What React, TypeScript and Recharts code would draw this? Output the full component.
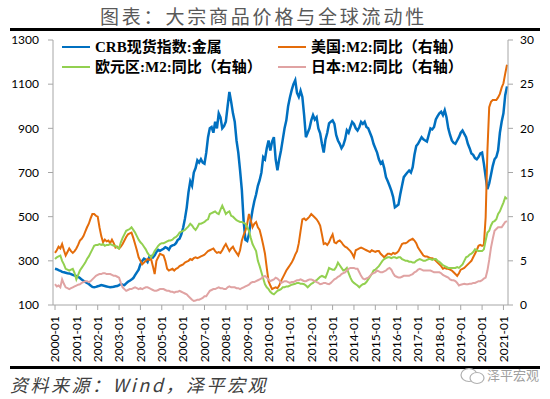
import React from "react";
import { LineChart, Line, XAxis, YAxis } from "recharts";

// monthly, 2000-01 .. 2021-03
const startYear = 2000;
const monthCount = 255;

const categories: string[] = [];
for (let i = 0; i < monthCount; i++) {
  const y = startYear + Math.floor(i / 12);
  const m = (i % 12) + 1;
  categories.push(`${y}-${m < 10 ? "0" + m : m}`);
}

// CRB现货指数:金属 (left axis)
const crbMetals = [
  264, 262, 258, 255, 250, 248, 246, 244, 243, 240, 236, 233,
  232, 228, 222, 215, 210, 205, 200, 195, 188, 182, 180, 182,
  185, 187, 190, 188, 186, 184, 182, 180, 181, 183, 185, 186,
  190, 195, 192, 190, 198, 205, 210, 215, 222, 235, 248, 260,
  285, 300, 310, 305, 295, 318, 322, 315, 325, 340, 350, 345,
  350, 355, 362, 358, 350, 365, 370, 372, 380, 395, 400, 420,
  450, 490, 540, 610, 660, 640, 700, 720, 755, 745, 760, 745,
  740, 790, 860, 900, 906, 880, 930, 900, 968, 950, 900, 910,
  930, 1000, 1065, 1020, 968, 930, 845, 790, 710, 620, 480, 395,
  390, 420, 480, 530, 570, 600, 640, 665, 700, 770, 760, 810,
  845, 800, 840, 860, 760, 710, 760, 800, 850, 900, 936, 1000,
  1040, 1073, 1100, 1118, 1060, 1042, 1070, 1042, 960, 860, 880, 900,
  936, 960, 940, 950, 900, 877, 830, 790, 850, 880, 922, 930,
  936, 920, 870, 845, 830, 810, 823, 850, 891, 880, 905, 929,
  920, 900, 890, 905, 929, 920, 930, 906, 900, 880, 860, 830,
  810, 790, 760, 741, 750, 720, 679, 660, 640, 618, 590, 542,
  548, 555, 600, 640, 679, 690, 700, 709, 700, 724, 780, 820,
  830, 845, 860, 850, 845, 840, 870, 900, 895, 906, 940, 955,
  968, 975, 960, 982, 950, 900, 870, 845, 835, 830, 845, 860,
  880, 890, 875, 860, 830, 810, 786, 780, 765, 760, 770, 786,
  790, 740, 680, 625, 650, 690, 730, 760, 770, 800, 880, 930,
  968, 1050, 1090,
];

// 美国:M2:同比 (right axis)
const usM2 = [
  5.9, 6.2, 6.6, 6.4, 6.9, 6.2, 5.6, 6.0, 6.4, 6.1, 5.9, 6.1,
  6.4, 6.8, 7.3, 7.5, 7.8, 8.3, 8.8, 9.2, 9.8, 10.3, 10.3, 10.1,
  10.0, 8.8, 7.8, 7.1, 7.4, 7.2, 7.3, 7.0, 7.4, 7.0, 6.5, 6.6,
  6.4, 6.6, 6.9, 7.3, 7.7, 8.0, 8.1, 8.2, 7.6, 6.9, 6.2, 5.4,
  5.0, 4.6, 4.8, 5.0, 5.2, 5.1, 5.2, 4.4, 3.5, 5.0, 5.4, 5.8,
  5.7, 5.6, 5.0, 4.1, 3.9, 4.0, 4.1, 3.9, 4.1, 4.2, 4.4, 4.5,
  4.6, 4.8, 4.9, 5.0, 5.2, 5.1, 5.3, 5.4, 5.3, 5.4, 5.5, 5.6,
  5.7, 5.9, 6.1, 6.2, 6.3, 6.4, 6.1, 5.9, 6.0, 5.9, 6.2, 6.6,
  6.9, 6.5, 6.1, 6.4, 6.6, 6.2, 5.9, 5.6, 6.2, 7.3, 7.9, 8.4,
  9.2, 10.3, 9.6, 8.8, 9.2, 9.4, 8.8, 8.5, 7.7, 6.8, 5.8, 4.2,
  2.7, 2.2, 1.8, 1.9, 2.0, 1.9, 2.2, 2.7, 3.1, 3.5, 3.9, 4.2,
  4.5, 4.8, 5.2, 5.7, 6.1, 7.0, 8.4, 9.7, 9.8, 9.6, 9.8, 10.0,
  10.3, 10.1, 9.9, 9.7, 9.4, 9.0, 8.0, 6.9, 7.0, 6.8, 7.1, 7.6,
  8.0, 7.1, 7.0, 7.2, 7.3, 7.1, 6.8, 6.6, 6.5, 6.3, 6.1, 5.8,
  5.4, 6.2, 6.3, 6.4, 6.5, 6.4, 6.3, 6.2, 6.1, 6.0, 6.2, 6.1,
  6.0, 6.1, 6.1, 5.8, 5.6, 5.4, 5.6, 5.8, 5.8, 5.7, 5.9, 5.8,
  5.9, 6.1, 6.5, 6.9, 7.0, 7.0, 7.1, 7.3, 7.4, 7.5, 7.3, 7.0,
  6.5, 6.2, 5.9, 5.6, 5.5, 5.5, 5.4, 5.3, 5.3, 5.2, 5.0, 4.8,
  4.6, 4.4, 4.1, 4.2, 4.1, 4.1, 4.0, 3.9, 3.7, 3.5, 3.3, 3.6,
  4.0, 4.1, 4.2, 4.4, 4.6, 4.8, 5.0, 5.4, 5.8, 6.2, 6.7, 6.8,
  6.7, 6.8, 9.9, 17.5, 22.4, 23.0, 23.2, 23.2, 23.2, 23.5, 23.9, 24.6,
  25.1, 26.2, 27.2,
];

// 欧元区:M2:同比 (right axis)
const euroM2 = [
  5.2, 5.4, 5.5, 5.6, 5.0, 4.6, 4.1, 4.0, 3.9, 4.0, 4.1, 3.6,
  2.9, 3.4, 3.9, 4.2, 4.5, 4.8, 5.2, 5.5, 5.9, 6.3, 6.7, 6.8,
  6.8, 6.9, 6.8, 6.9, 6.7, 6.8, 6.8, 6.9, 6.8, 6.7, 6.7, 6.5,
  6.4, 7.1, 7.6, 8.0, 8.4, 8.5, 8.6, 8.8, 8.5, 8.2, 7.8, 7.4,
  7.1, 6.9, 6.6, 6.3, 5.9, 5.6, 5.4, 5.7, 6.1, 6.4, 6.7, 6.9,
  7.0, 7.0, 7.1, 7.2, 7.3, 7.3, 7.4, 7.6, 7.7, 7.9, 8.2, 8.3,
  8.4, 8.5, 8.7, 8.9, 9.2, 9.0, 8.7, 8.5, 8.8, 9.2, 9.2, 9.3,
  9.4, 9.6, 9.7, 10.3, 10.4, 10.5, 10.6, 10.4, 10.3, 10.8, 11.25, 10.8,
  10.3, 10.5, 10.6, 10.1, 10.0, 9.8, 9.6, 9.5, 9.4, 9.4, 9.3, 9.2,
  8.8, 8.4, 7.6, 6.9, 6.5, 6.1, 5.0, 4.4, 3.7, 3.0, 2.35, 2.0,
  1.8, 1.5, 1.3, 1.2, 1.4, 1.6, 1.7, 1.8, 2.0, 2.0, 2.1, 2.1,
  2.2, 2.3, 2.35, 2.4, 2.5, 2.5, 2.4, 2.4, 2.35, 2.2, 2.0, 2.2,
  2.4, 2.5, 2.7, 2.8, 3.0, 3.2, 3.3, 3.2, 3.1, 3.6, 4.2, 4.1,
  4.0, 4.0, 4.3, 4.8, 4.5, 4.2, 3.9, 4.0, 4.2, 3.6, 3.1, 2.7,
  2.5, 2.35, 2.2, 2.0, 2.2, 2.35, 2.4, 2.6, 2.9, 3.2, 3.5, 3.9,
  4.0, 4.2, 4.4, 4.7, 5.0, 5.2, 5.3, 5.4, 5.4, 5.3, 5.4, 5.4,
  5.3, 5.4, 5.4, 5.2, 5.1, 5.0, 5.0, 4.9, 4.9, 4.8, 4.8, 5.0,
  5.1, 5.2, 5.1, 5.0, 5.0, 5.1, 5.2, 5.2, 5.1, 5.2, 5.2, 5.0,
  4.9, 4.7, 4.5, 4.4, 4.3, 4.2, 4.2, 4.2, 4.2, 4.2, 4.3, 4.2,
  4.4, 4.6, 5.0, 5.4, 5.5, 5.7, 5.8, 6.0, 6.3, 6.2, 6.1, 6.1,
  6.1, 6.3, 7.3, 8.2, 8.4, 9.0, 9.4, 9.5, 9.7, 10.3, 10.6, 11.1,
  11.6, 12.2, 12.0,
];

// 日本:M2:同比 (right axis)
const japanM2 = [
  2.35, 2.1, 2.2, 2.0, 2.9, 2.4, 2.0, 1.9, 1.8, 1.9, 2.0, 2.1,
  2.2, 2.3, 2.35, 2.5, 2.6, 2.7, 2.7, 2.6, 2.7, 2.9, 3.1, 3.3,
  3.4, 3.5, 3.5, 3.6, 3.6, 3.5, 3.5, 3.5, 3.4, 3.3, 3.3, 3.2,
  3.1, 2.5, 2.0, 1.8, 1.6, 1.7, 1.8, 1.8, 1.9, 2.0, 1.9, 1.8,
  1.9, 1.8, 1.9, 2.0, 2.0, 1.9, 1.8, 1.7, 1.6, 1.6, 1.7, 1.8,
  1.8, 1.8, 1.7, 1.6, 1.6, 1.5, 1.5, 1.4, 1.5, 1.5, 1.6, 1.5,
  1.4, 1.3, 1.2, 1.0, 0.8, 0.6, 0.45, 0.5, 0.6, 0.6, 0.7, 0.8,
  1.0, 1.0, 1.3, 1.6, 1.7, 1.8, 1.8, 1.9, 2.0, 1.9, 1.9, 1.8,
  1.8, 2.0, 2.1, 2.0, 2.0, 2.0, 1.9, 1.9, 1.8, 1.9, 2.0, 2.1,
  2.2, 2.3, 2.5, 2.6, 2.6, 2.7, 2.8, 2.9, 3.0, 3.2, 3.3, 3.1,
  2.9, 2.7, 2.8, 2.9, 3.1, 3.0, 2.8, 2.5, 2.6, 2.7, 2.7, 2.6,
  2.5, 2.6, 2.6, 2.7, 2.8, 2.8, 2.9, 2.8, 2.7, 2.7, 2.8, 2.9,
  2.9, 2.8, 2.7, 2.6, 2.5, 2.35, 2.4, 2.5, 2.5, 2.4, 2.35, 2.5,
  2.7, 2.9, 3.0, 3.2, 3.3, 3.5, 3.6, 3.7, 3.9, 4.1, 4.2, 4.2,
  4.2, 4.1, 4.1, 3.7, 3.3, 3.0, 2.9, 3.0, 3.1, 3.3, 3.5, 3.6,
  3.7, 3.9, 3.8, 3.7, 3.7, 3.8, 3.9, 4.1, 4.2, 4.0, 3.6, 3.3,
  3.2, 3.1, 3.1, 3.2, 3.3, 3.3, 3.3, 3.3, 3.4, 3.5, 3.7, 3.8,
  4.0, 4.1, 4.0, 3.9, 3.9, 3.9, 3.9, 3.9, 3.8, 3.7, 3.7, 3.7,
  3.7, 3.6, 3.4, 3.3, 3.2, 3.1, 2.9, 2.8, 2.8, 2.7, 2.5, 2.2,
  2.3, 2.35, 2.4, 2.35, 2.35, 2.4, 2.4, 2.5, 2.5, 2.6, 2.7, 2.7,
  2.8, 3.0, 3.1, 3.9, 5.1, 6.5, 7.5, 8.4, 8.6, 8.8, 8.8, 8.8,
  9.1, 9.4, 9.5,
];

const leftTicks = [100, 300, 500, 700, 900, 1100, 1300];
const rightTicks = [0, 5, 10, 15, 20, 25, 30];

const seriesNames = {
  crb: "CRB现货指数:金属",
  us: "美国:M2:同比（右轴）",
  euro: "欧元区:M2:同比（右轴）",
  japan: "日本:M2:同比（右轴）",
};

const data = categories.map((date, i) => ({
  date,
  crb: crbMetals[i],
  us: usM2[i],
  euro: euroM2[i],
  japan: japanM2[i],
}));

const BLUE = "#0070C0";
const ORANGE = "#E46C0A";
const GREEN = "#92D050";
const PINK = "#E0A3A3";
const AXIS = "#A6A6A6";
const tickFont = "Lato, 'Liberation Sans', sans-serif";

const XTick = (props: any) => {
  const { x, y, payload } = props;
  return (
    <text
      x={x}
      y={y}
      transform={`rotate(-90, ${x}, ${y})`}
      textAnchor="end"
      dy="0.36em"
      fontSize={12}
      fontFamily={tickFont}
      fill="#000"
    >
      {payload.value}
    </text>
  );
};

const legendFont = "'Liberation Serif', 'Noto Sans CJK SC', serif";

const LegendItem = ({ color, label, left, top }: any) => (
  <div
    style={{
      position: "absolute",
      left,
      top,
      display: "flex",
      alignItems: "center",
      whiteSpace: "nowrap",
    }}
  >
    <div style={{ width: 28, height: 2, background: color, marginRight: 5 }} />
    <span
      style={{
        fontFamily: legendFont,
        fontWeight: 700,
        fontSize: 15,
        color: "#000",
        lineHeight: "16px",
      }}
    >
      {label}
    </span>
  </div>
);

export default function App() {
  return (
    <div
      style={{
        position: "absolute",
        left: 0,
        top: 0,
        width: 550,
        height: 399,
        background: "#fff",
        overflow: "hidden",
      }}
    >
      <div
        style={{
          position: "absolute",
          left: 100,
          top: 4,
          fontFamily: "'Noto Sans CJK SC', sans-serif",
          fontSize: 19,
          letterSpacing: 2.8,
          color: "#595959",
          lineHeight: "24px",
          whiteSpace: "nowrap",
        }}
      >
        图表：大宗商品价格与全球流动性
      </div>
      <div
        style={{
          position: "absolute",
          left: 10,
          top: 28,
          width: 530,
          height: 3,
          background: "#000",
        }}
      />

      <div style={{ position: "absolute", left: 0, top: 0 }}>
        <LineChart
          width={550}
          height={370}
          data={data}
          margin={{ top: 40, right: 0, bottom: 0, left: 0 }}
        >
          <XAxis
            dataKey="date"
            interval={11}
            height={65}
            padding={{ left: 2, right: 1 }}
            tick={<XTick />}
            tickSize={5}
            tickMargin={6}
            stroke={AXIS}
            axisLine={{ stroke: AXIS }}
            tickLine={{ stroke: AXIS }}
          />
          <YAxis
            yAxisId="left"
            orientation="left"
            width={53}
            domain={[100, 1300]}
            ticks={leftTicks}
            allowDataOverflow
            tickSize={5}
            tickMargin={9}
            axisLine={{ stroke: AXIS }}
            tickLine={{ stroke: AXIS }}
            tick={{ fill: "#000", fontSize: 12, fontFamily: tickFont }}
          />
          <YAxis
            yAxisId="right"
            orientation="right"
            width={42}
            domain={[0, 30]}
            ticks={rightTicks}
            allowDataOverflow
            tickSize={5}
            tickMargin={7}
            axisLine={{ stroke: AXIS }}
            tickLine={{ stroke: AXIS }}
            tick={{ fill: "#000", fontSize: 12, fontFamily: tickFont }}
          />
          <Line
            yAxisId="left"
            dataKey="crb"
            name={seriesNames.crb}
            stroke={BLUE}
            strokeWidth={2.5}
            dot={false}
            isAnimationActive={false}
          />
          <Line
            yAxisId="right"
            dataKey="us"
            name={seriesNames.us}
            stroke={ORANGE}
            strokeWidth={2}
            dot={false}
            isAnimationActive={false}
          />
          <Line
            yAxisId="right"
            dataKey="euro"
            name={seriesNames.euro}
            stroke={GREEN}
            strokeWidth={2}
            dot={false}
            isAnimationActive={false}
          />
          <Line
            yAxisId="right"
            dataKey="japan"
            name={seriesNames.japan}
            stroke={PINK}
            strokeWidth={2}
            dot={false}
            isAnimationActive={false}
          />
        </LineChart>
      </div>

      <LegendItem color={BLUE} label={seriesNames.crb} left={62} top={39} />
      <LegendItem color={ORANGE} label={seriesNames.us} left={278} top={39} />
      <LegendItem color={GREEN} label={seriesNames.euro} left={62} top={59} />
      <LegendItem color={PINK} label={seriesNames.japan} left={278} top={59} />

      <div
        style={{
          position: "absolute",
          left: 10,
          top: 366,
          width: 530,
          height: 3,
          background: "#000",
        }}
      />
      <div
        style={{
          position: "absolute",
          left: 10,
          top: 372,
          fontFamily: "'Noto Sans CJK SC', sans-serif",
          fontStyle: "italic",
          fontSize: 18,
          letterSpacing: 2.5,
          color: "#404040",
          lineHeight: "24px",
          whiteSpace: "nowrap",
        }}
      >
        资料来源：Wind，泽平宏观
      </div>
      <svg
        width={26}
        height={18}
        style={{ position: "absolute", left: 460, top: 367 }}
      >
        <ellipse cx={9} cy={8} rx={8} ry={6.5} fill="none" stroke="#B0B0B0" strokeWidth={1.2} />
        <ellipse cx={17} cy={11} rx={7} ry={5.5} fill="#fff" stroke="#B0B0B0" strokeWidth={1.2} />
      </svg>
      <div
        style={{
          position: "absolute",
          left: 487,
          top: 366,
          fontFamily: "'Noto Sans CJK SC', sans-serif",
          fontSize: 13,
          color: "#A0A0A0",
          lineHeight: "18px",
          whiteSpace: "nowrap",
        }}
      >
        泽平宏观
      </div>
    </div>
  );
}
